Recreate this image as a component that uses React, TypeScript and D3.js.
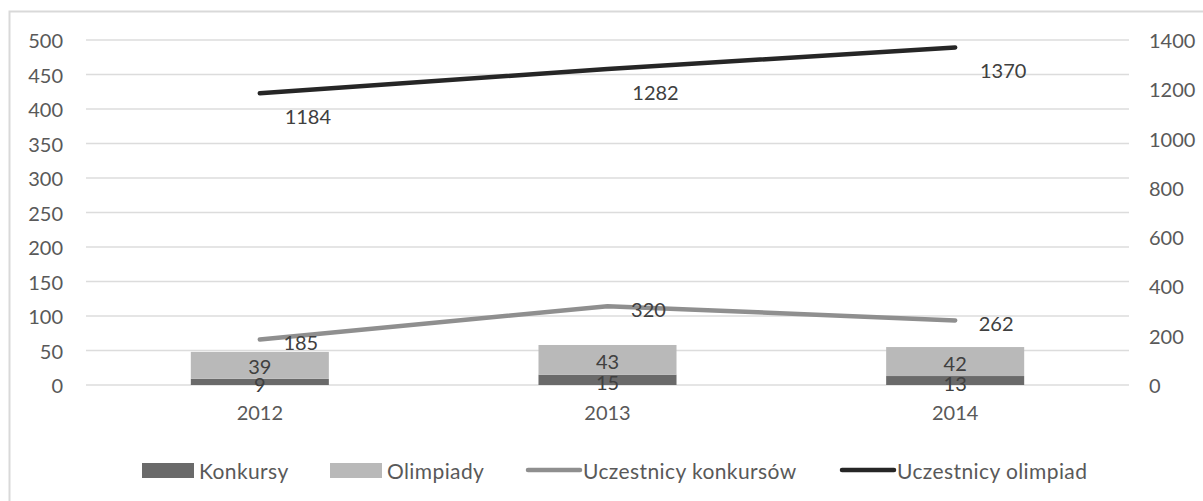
import React from "react";
import * as d3 from "d3";

const years = ["2012", "2013", "2014"];
const konkursy = [9, 15, 13];
const olimpiady = [39, 43, 42];
const uczestnicyKonkursow = [185, 320, 262];
const uczestnicyOlimpiad = [1184, 1282, 1370];
const leftTicks = [0, 50, 100, 150, 200, 250, 300, 350, 400, 450, 500];
const rightTicks = [0, 200, 400, 600, 800, 1000, 1200, 1400];

const W = 1203;
const H = 501;
const FONT = "Lato, 'Open Sans', sans-serif";
const C_DARK = "#6a6a6a";
const C_LIGHT = "#b9b9b9";
const C_GRAYLINE = "#8f8f8f";
const C_BLACKLINE = "#262626";
const C_AXIS = "#595959";
const C_LABEL = "#404040";

export default function App() {
  const left = 86, right = 1129, top = 40, bottom = 385;
  const x = d3.scaleBand<string>().domain(years).range([left, right]).paddingInner(0).paddingOuter(0);
  const yL = d3.scaleLinear().domain([0, 500]).range([bottom, top]);
  const yR = d3.scaleLinear().domain([0, 1400]).range([bottom, top]);
  const bw = x.bandwidth() * 0.397;
  const cx = (d: string) => (x(d) as number) + x.bandwidth() / 2;

  const line = d3.line<number>().x((_, i) => cx(years[i])).y((v) => yR(v));

  const legendItems = [
    { type: "rect", color: C_DARK, label: "Konkursy", x: 142 },
    { type: "rect", color: C_LIGHT, label: "Olimpiady", x: 330 },
    { type: "line", color: C_GRAYLINE, label: "Uczestnicy konkursów", x: 526 },
    { type: "line", color: C_BLACKLINE, label: "Uczestnicy olimpiad", x: 840 },
  ];

  return (
    <svg width={W} height={H} style={{ position: "absolute", left: 0, top: 0, background: "#fff" }} fontFamily={FONT}>
      <rect x={9.5} y={11.5} width={1200} height={500} fill="#fff" stroke="#d9d9d9" strokeWidth={2} />
      {leftTicks.map((t) => (
        <g key={"l" + t}>
          <line x1={left} x2={right} y1={yL(t)} y2={yL(t)} stroke="#dcdcdc" strokeWidth={1.5} />
          <text x={63} y={yL(t)} textAnchor="end" dominantBaseline="central" fontSize={20} fill={C_AXIS}>{t}</text>
        </g>
      ))}
      {rightTicks.map((t) => (
        <text key={"r" + t} x={1149} y={yR(t)} textAnchor="start" dominantBaseline="central" fontSize={20} fill={C_AXIS}>{t}</text>
      ))}
      {years.map((yr, i) => {
        const x0 = cx(yr) - bw / 2;
        const k = konkursy[i];
        const o = olimpiady[i];
        return (
          <g key={yr}>
            <rect x={x0} width={bw} y={yL(k)} height={yL(0) - yL(k)} fill={C_DARK} />
            <rect x={x0} width={bw} y={yL(k + o)} height={yL(k) - yL(k + o)} fill={C_LIGHT} />
            <text x={cx(yr)} y={(yL(k) + yL(k + o)) / 2 + 1} textAnchor="middle" dominantBaseline="central" fontSize={20} fill={C_LABEL}>{o}</text>
            <text x={cx(yr)} y={(yL(0) + yL(k)) / 2 + 2} textAnchor="middle" dominantBaseline="central" fontSize={20} fill={C_LABEL}>{k}</text>
            <text x={cx(yr)} y={412} textAnchor="middle" dominantBaseline="central" fontSize={20} fill={C_AXIS}>{yr}</text>
          </g>
        );
      })}
      <path d={line(uczestnicyKonkursow) || ""} fill="none" stroke={C_GRAYLINE} strokeWidth={4.5} strokeLinecap="round" strokeLinejoin="round" />
      <path d={line(uczestnicyOlimpiad) || ""} fill="none" stroke={C_BLACKLINE} strokeWidth={4.5} strokeLinecap="round" strokeLinejoin="round" />
      {uczestnicyKonkursow.map((v, i) => (
        <text key={"gk" + i} x={cx(years[i]) + 41} y={yR(v) + 3} textAnchor="middle" dominantBaseline="central" fontSize={20} fill={C_LABEL}>{v}</text>
      ))}
      {uczestnicyOlimpiad.map((v, i) => (
        <text key={"go" + i} x={cx(years[i]) + 48} y={yR(v) + 23} textAnchor="middle" dominantBaseline="central" fontSize={20} fill={C_LABEL}>{v}</text>
      ))}
      {legendItems.map((it) => (
        <g key={it.label}>
          {it.type === "rect" ? (
            <rect x={it.x} y={463} width={52} height={15} fill={it.color} />
          ) : (
            <line x1={it.x + 2} x2={it.x + 54} y1={470} y2={470} stroke={it.color} strokeWidth={4.5} strokeLinecap="round" />
          )}
          <text x={it.x + 57} y={470} dominantBaseline="central" fontSize={21} letterSpacing={0.4} fill={C_AXIS}>{it.label}</text>
        </g>
      ))}
    </svg>
  );
}
